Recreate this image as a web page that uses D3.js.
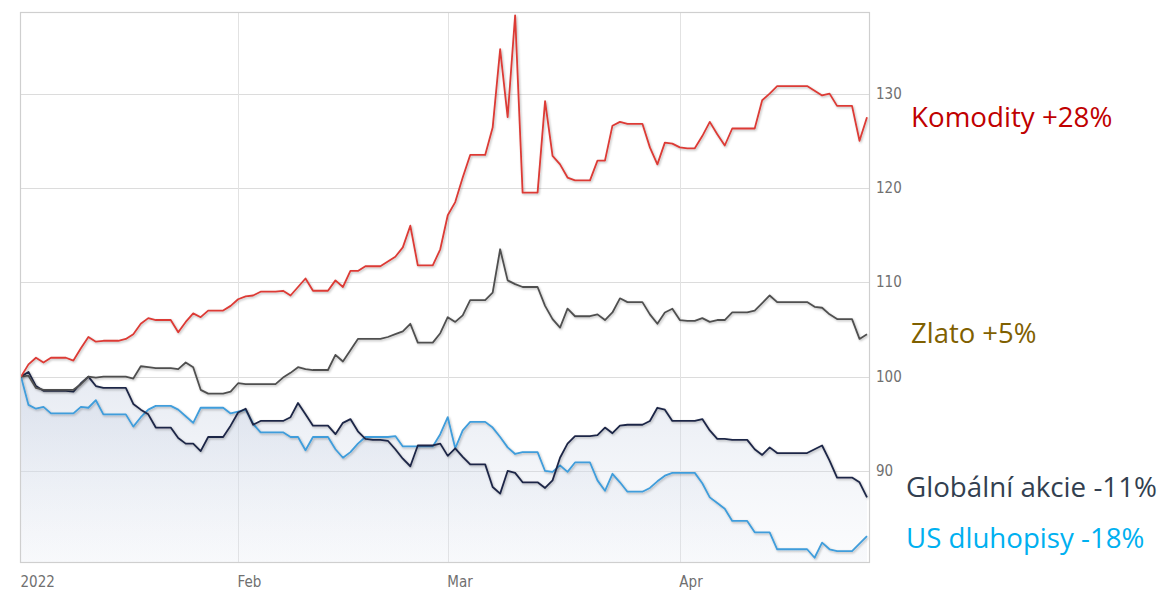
<!DOCTYPE html>
<html>
<head>
<meta charset="utf-8">
<script src="https://cdn.jsdelivr.net/npm/d3@7"></script>
<style>
  html, body { margin: 0; padding: 0; background: #ffffff; }
  svg { display: block; }
</style>
</head>
<body>
<svg id="chart" width="1165" height="598"></svg>
<script>
// ---- Data (daily values, Jan 3 2022 .. Apr 26 2022) ----
const startDate = "2022-01-03";
const endDate = "2022-04-26";

const komodity = [
  100, 101.3, 102.0, 101.5, 102.0, 102.0, 102.0,
  101.7, 103.0, 104.2, 103.7, 103.8, 103.8, 103.8,
  104.0, 104.5, 105.6, 106.2, 106.0, 106.0, 106.0,
  104.7, 105.8, 106.7, 106.3, 107.0, 107.0, 107.0,
  107.5, 108.2, 108.5, 108.6, 109.0, 109.0, 109.0,
  109.1, 108.6, 109.5, 110.4, 109.1, 109.1, 109.1,
  110.2, 109.5, 111.2, 111.2, 111.7, 111.7, 111.7,
  112.2, 112.7, 113.7, 116.0, 111.8, 111.8, 111.8,
  113.5, 117.1, 118.5, 121.1, 123.5, 123.5, 123.5,
  126.4, 134.7, 127.5, 138.3, 119.5, 119.5, 119.5,
  129.2, 123.4, 122.5, 121.1, 120.8, 120.8, 120.8,
  122.9, 122.9, 126.6, 127.0, 126.8, 126.8, 126.8,
  124.3, 122.5, 124.8, 124.7, 124.3, 124.2, 124.2,
  125.5, 127.0, 125.7, 124.5, 126.3, 126.3, 126.3,
  126.3, 129.3, 130.0, 130.8, 130.8, 130.8, 130.8,
  130.8, 130.3, 129.8, 130.0, 128.7, 128.7, 128.7,
  125.0, 127.5
];

const zlato = [
  100, 100.1, 98.8, 98.6, 98.6, 98.6, 98.6,
  98.6, 99.2, 100.0, 99.9, 100.0, 100.0, 100.0,
  100.0, 99.8, 101.1, 101.0, 100.9, 100.9, 100.9,
  100.8, 101.5, 101.0, 98.6, 98.2, 98.2, 98.2,
  98.4, 99.3, 99.2, 99.2, 99.2, 99.2, 99.2,
  99.9, 100.4, 101.0, 100.8, 100.7, 100.7, 100.7,
  102.3, 101.6, 102.8, 104.0, 104.0, 104.0, 104.0,
  104.2, 104.5, 104.8, 105.6, 103.6, 103.6, 103.6,
  104.6, 106.3, 105.8, 106.5, 108.1, 108.1, 108.1,
  108.9, 113.5, 110.2, 109.8, 109.5, 109.5, 109.5,
  107.5, 106.1, 105.2, 107.2, 106.4, 106.4, 106.4,
  106.6, 106.0, 106.8, 108.3, 107.9, 107.9, 107.9,
  106.6, 105.6, 106.8, 107.2, 106.0, 105.9, 105.9,
  106.2, 105.8, 106.0, 106.0, 106.8, 106.8, 106.8,
  107.0, 107.8, 108.6, 107.9, 107.9, 107.9, 107.9,
  107.9, 107.4, 107.3, 106.6, 106.1, 106.1, 106.1,
  104.0, 104.5
];

const globalniAkcie = [
  100, 100.5, 99.0, 98.5, 98.5, 98.5, 98.5,
  98.4, 99.3, 100.0, 99.0, 98.8, 98.8, 98.8,
  98.8, 97.1, 96.5, 96.0, 94.6, 94.6, 94.6,
  93.5, 92.9, 92.9, 92.1, 93.6, 93.6, 93.6,
  94.8, 96.2, 96.6, 94.9, 95.3, 95.3, 95.3,
  95.3, 95.7, 97.2, 96.0, 94.8, 94.8, 94.8,
  93.9, 95.1, 95.5, 94.2, 93.4, 93.3, 93.3,
  93.2, 92.3, 91.3, 90.5, 92.7, 92.7, 92.7,
  92.9, 91.6, 92.4, 91.5, 90.7, 90.7, 90.7,
  88.3, 87.6, 90.0, 89.8, 88.8, 88.8, 88.8,
  88.2, 89.0, 91.4, 92.9, 93.7, 93.7, 93.7,
  93.8, 94.6, 94.0, 94.8, 94.9, 94.9, 94.9,
  95.3, 96.7, 96.5, 95.3, 95.3, 95.3, 95.3,
  95.5, 94.3, 93.4, 93.4, 93.3, 93.3, 93.3,
  92.3, 91.7, 92.5, 91.9, 91.9, 91.9, 91.9,
  91.9, 92.3, 92.7, 91.1, 89.3, 89.3, 89.3,
  88.8, 87.2
];

const usDluhopisy = [
  100, 97.0, 96.6, 96.8, 96.1, 96.1, 96.1,
  96.1, 96.8, 96.7, 97.5, 96.0, 96.0, 96.0,
  96.0, 94.7, 95.7, 96.5, 96.9, 96.9, 96.9,
  96.5, 95.8, 95.1, 96.7, 96.7, 96.7, 96.7,
  96.1, 96.3, 96.5, 95.0, 94.1, 94.1, 94.1,
  94.1, 93.6, 93.6, 92.2, 93.6, 93.6, 93.6,
  92.3, 91.4, 92.0, 92.9, 93.6, 93.6, 93.6,
  93.6, 93.7, 92.6, 92.6, 92.6, 92.6, 92.6,
  93.9, 95.7, 92.4, 94.3, 95.2, 95.2, 95.2,
  94.6, 93.6, 92.5, 91.8, 92.0, 92.0, 92.0,
  90.0, 89.9, 90.6, 89.9, 90.9, 90.9, 90.9,
  89.0, 87.9, 89.7, 88.8, 87.8, 87.8, 87.8,
  88.2, 88.9, 89.5, 89.8, 89.8, 89.8, 89.8,
  88.7, 87.2, 86.6, 86.0, 84.7, 84.7, 84.7,
  83.5, 83.5, 83.5, 81.7, 81.7, 81.7, 81.7,
  81.7, 80.8, 82.4, 81.7, 81.5, 81.5, 81.5,
  82.3, 83.1
];

const yTicks = [90, 100, 110, 120, 130];
const xTickDates = ["2022-01-03", "2022-02-01", "2022-03-01", "2022-04-01"];
const xTickLabels = ["2022", "Feb", "Mar", "Apr"];

const seriesNames = ["Komodity +28%", "Zlato +5%", "Globální akcie -11%", "US dluhopisy -18%"];

// ---- Drawing ----
const parse = d3.timeParse("%Y-%m-%d");
const dates = d3.timeDay.range(parse(startDate), d3.timeDay.offset(parse(endDate), 1));

const svg = d3.select("#chart");
const frame = { left: 20, right: 869, top: 12, bottom: 562 };

const x = d3.scaleTime().domain([parse(startDate), parse(endDate)]).range([21, 867]);
const y = d3.scaleLinear().domain([80.35, 138.65]).range([frame.bottom, frame.top]);

const defs = svg.append("defs");
const grad = defs.append("linearGradient").attr("id", "areaGrad")
  .attr("gradientUnits", "userSpaceOnUse")
  .attr("x1", 0).attr("y1", y(100)).attr("x2", 0).attr("y2", frame.bottom);
grad.append("stop").attr("offset", "0%").attr("stop-color", "#c9d2e3").attr("stop-opacity", 0.45);
grad.append("stop").attr("offset", "100%").attr("stop-color", "#dfe5ef").attr("stop-opacity", 0.12);

const shadow = defs.append("filter").attr("id", "shadow")
  .attr("x", "-5%").attr("y", "-5%").attr("width", "110%").attr("height", "110%");
shadow.append("feDropShadow").attr("dx", 1).attr("dy", 1.2).attr("stdDeviation", 1.1)
  .attr("flood-color", "#000").attr("flood-opacity", 0.28);

const clip = defs.append("clipPath").attr("id", "plotClip");
clip.append("rect").attr("x", frame.left).attr("y", frame.top - 6)
  .attr("width", frame.right - frame.left).attr("height", frame.bottom - frame.top + 6);

// horizontal gridlines
svg.append("g").selectAll("line").data(yTicks).join("line")
  .attr("x1", frame.left).attr("x2", frame.right)
  .attr("y1", d => Math.round(y(d)) + 0.5).attr("y2", d => Math.round(y(d)) + 0.5)
  .attr("stroke", "#dcdcdc").attr("stroke-width", 1);

// vertical gridlines
svg.append("g").selectAll("line").data(xTickDates.slice(1)).join("line")
  .attr("x1", d => Math.round(x(parse(d))) + 0.5).attr("x2", d => Math.round(x(parse(d))) + 0.5)
  .attr("y1", frame.top).attr("y2", frame.bottom)
  .attr("stroke", "#e2e2e2").attr("stroke-width", 1);

// areas
const plot = svg.append("g").attr("clip-path", "url(#plotClip)");
const area = d3.area().x((d, i) => x(dates[i])).y0(frame.bottom).y1(d => y(d)).curve(d3.curveLinear);
[globalniAkcie, usDluhopisy].forEach(s => {
  plot.append("path").datum(s).attr("d", area).attr("fill", "url(#areaGrad)");
});

// frame
svg.append("rect")
  .attr("x", frame.left + 0.5).attr("y", frame.top + 0.5)
  .attr("width", frame.right - frame.left).attr("height", frame.bottom - frame.top)
  .attr("fill", "none").attr("stroke", "#cfcfcf").attr("stroke-width", 1.2);

// lines
const line = d3.line().x((d, i) => x(dates[i])).y(d => y(d)).curve(d3.curveLinear);
const lineSeries = [
  { data: usDluhopisy, color: "#3f9ddb" },
  { data: globalniAkcie, color: "#1f2747" },
  { data: zlato, color: "#505050" },
  { data: komodity, color: "#dc3b36" }
];
lineSeries.forEach(s => {
  plot.append("path").datum(s.data).attr("d", line)
    .attr("fill", "none").attr("stroke", s.color).attr("stroke-width", 1.8)
    .attr("stroke-linejoin", "round").attr("filter", "url(#shadow)");
});

// y axis labels (right)
const tickFont = "'Liberation Sans Narrow', 'DejaVu Sans Condensed', 'Roboto Condensed', sans-serif";
svg.append("g").selectAll("text").data(yTicks).join("text")
  .attr("x", 876).attr("y", d => y(d))
  .attr("dominant-baseline", "central")
  .attr("font-family", tickFont).attr("font-size", 15)
  .attr("fill", "#707070")
  .text(d => d);

// x axis labels
svg.append("g").selectAll("text").data(xTickDates).join("text")
  .attr("x", d => x(parse(d)) - 0.5).attr("y", 587)
  .attr("font-family", tickFont).attr("font-size", 15)
  .attr("fill", "#707070")
  .text((d, i) => xTickLabels[i]);

// series labels
const labelFont = "'Open Sans', 'Noto Sans', sans-serif";
const labels = [
  { text: seriesNames[0], x: 911, y: 126.7, w: 201.5, color: "#c00000" },
  { text: seriesNames[1], x: 911, y: 342.7, w: 125.5, color: "#7f6000" },
  { text: seriesNames[2], x: 906, y: 497.3, w: 251, color: "#333f50" },
  { text: seriesNames[3], x: 906, y: 548.3, w: 238.5, color: "#00b0f0" }
];
labels.forEach(l => {
  const t = svg.append("text").attr("x", l.x).attr("y", l.y)
    .attr("font-family", labelFont).attr("font-size", 25)
    .attr("fill", l.color).text(l.text);
  const len = t.node().getComputedTextLength();
  t.attr("font-size", 25 * l.w / len);
});
</script>
</body>
</html>
